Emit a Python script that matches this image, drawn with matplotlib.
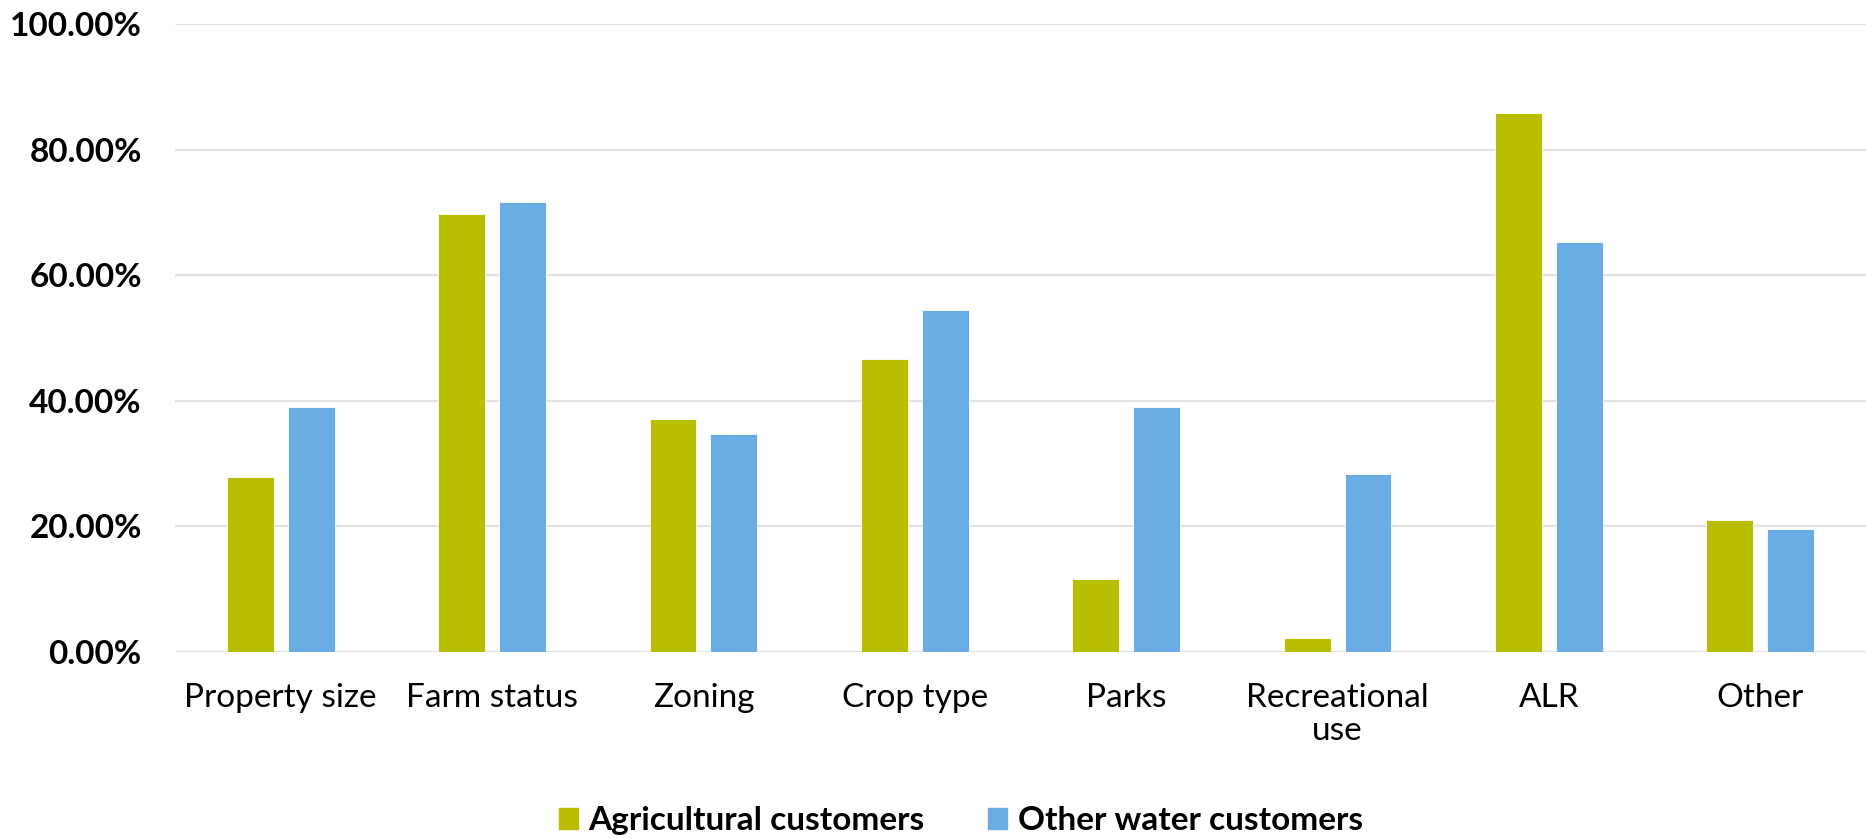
import matplotlib.pyplot as plt
import numpy as np
from matplotlib.patches import Patch
from matplotlib.ticker import FuncFormatter, MultipleLocator

categories = ["Property size", "Farm status", "Zoning", "Crop type",
              "Parks", "Recreational\nuse", "ALR", "Other"]
agricultural = [27.9, 69.8, 37.1, 46.6, 11.6, 2.3, 85.9, 21.0]
other_water = [39.0, 71.7, 34.7, 54.4, 39.0, 28.3, 65.3, 19.6]
series_names = ["Agricultural customers", "Other water customers"]

GREEN = "#B9BF00"
BLUE = "#6AACE4"
GRID = "#E3E3E3"

fig = plt.figure(figsize=(18.66, 8.39), dpi=100)
ax = fig.add_axes([175 / 1866, 187 / 839, 1 - 175 / 1866, 628 / 839])

x = np.arange(len(categories))
width = 0.222
offset = 0.144
ax.bar(x - offset, agricultural, width, color=GREEN, edgecolor="white", linewidth=0.6, zorder=3)
ax.bar(x + offset, other_water, width, color=BLUE, edgecolor="white", linewidth=0.6, zorder=3)

ax.set_xlim(-0.5, len(categories) - 0.5)
ax.set_ylim(0, 100)
ax.yaxis.set_major_locator(MultipleLocator(20))
ax.yaxis.set_major_formatter(FuncFormatter(lambda v, p: f"{v:.2f}%"))
ax.grid(axis="y", color=GRID, linewidth=1.6, zorder=0)
ax.set_axisbelow(True)
for s in ax.spines.values():
    s.set_visible(False)

ax.set_xticks(x)
ax.set_xticklabels(categories, fontfamily="Lato", fontsize=24, va="top",
                   linespacing=1.15)
ax.tick_params(axis="x", length=0, pad=22)
ax.tick_params(axis="y", length=0, pad=24)
for lab in ax.get_yticklabels():
    lab.set_fontfamily("Lato")
    lab.set_fontweight("bold")
    lab.set_fontsize(24)

handles = [Patch(color=GREEN), Patch(color=BLUE)]
fig.legend(handles, series_names, loc="center", bbox_to_anchor=(0.515, 0.022),
           ncol=2, frameon=False, handlelength=0.57, handleheight=0.57,
           handletextpad=0.33, columnspacing=1.9,
           prop={"family": "Lato", "weight": "bold", "size": 24})

fig.savefig("out.png", dpi=100, facecolor="white")
